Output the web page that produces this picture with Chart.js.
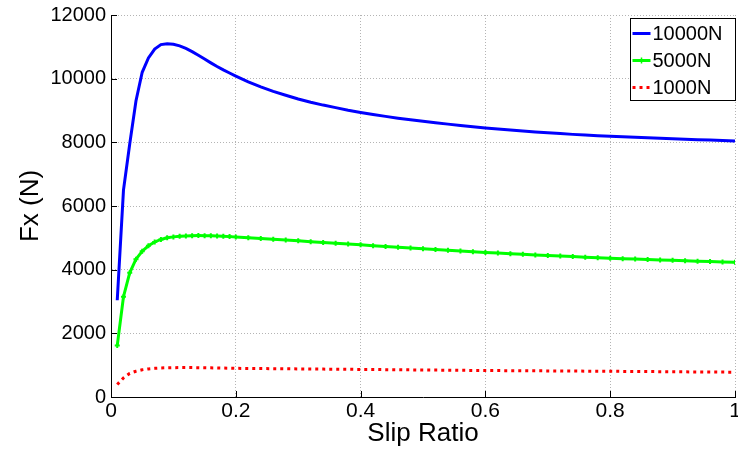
<!DOCTYPE html>
<html>
<head>
<meta charset="utf-8">
<title>Fx vs Slip Ratio</title>
<script src="https://cdn.jsdelivr.net/npm/chart.js@4.4.1/dist/chart.umd.min.js"></script>
<style>
  html, body { margin: 0; padding: 0; background: #fff; }
  #wrap { width: 738px; height: 450px; }
</style>
</head>
<body>
<div id="wrap"><canvas id="fxChart" width="738" height="450"></canvas></div>
<script>
// slip ratio samples (x)
const slip = [
  0.01, 0.02, 0.03, 0.04, 0.05, 0.06, 0.07, 0.08, 0.09, 0.10,
  0.11, 0.12, 0.13, 0.14, 0.15, 0.16, 0.17, 0.18, 0.19, 0.20,
  0.22, 0.24, 0.26, 0.28, 0.30, 0.32, 0.34, 0.36, 0.38, 0.40,
  0.42, 0.44, 0.46, 0.48, 0.50, 0.52, 0.54, 0.56, 0.58, 0.60,
  0.62, 0.64, 0.66, 0.68, 0.70, 0.72, 0.74, 0.76, 0.78, 0.80,
  0.82, 0.84, 0.86, 0.88, 0.90, 0.92, 0.94, 0.96, 0.98, 1.00
];

// Fx (N) for each normal load
const fx10000 = [
  3040, 6500, 7950, 9300, 10200, 10650, 10930, 11070, 11100, 11080,
  11030, 10950, 10850, 10735, 10615, 10497, 10384, 10277, 10177, 10082,
  9902, 9742, 9602, 9478, 9360, 9260, 9170, 9090, 9010, 8940,
  8875, 8815, 8760, 8710, 8662, 8617, 8572, 8530, 8490, 8452,
  8420, 8387, 8357, 8328, 8300, 8275, 8250, 8230, 8210, 8190,
  8175, 8160, 8145, 8125, 8110, 8095, 8080, 8070, 8055, 8045
];
const fx5000 = [
  1614, 3150, 3900, 4330, 4580, 4750, 4870, 4950, 5000, 5030,
  5050, 5060, 5068, 5070, 5068, 5062, 5055, 5047, 5038, 5028,
  5005, 4980, 4955, 4930, 4905, 4880, 4855, 4830, 4805, 4780,
  4755, 4730, 4705, 4680, 4658, 4635, 4610, 4588, 4563, 4540,
  4520, 4500, 4482, 4463, 4445, 4428, 4410, 4393, 4376, 4360,
  4346, 4332, 4318, 4305, 4292, 4279, 4266, 4254, 4242, 4230
];
const fx1000 = [
  390, 600, 740, 810, 855, 883, 900, 912, 918, 922,
  924, 924, 923, 921, 918, 915, 912, 908, 904, 900,
  897, 893, 890, 887, 883, 880, 876, 873, 870, 866,
  863, 859, 856, 852, 849, 846, 842, 839, 835, 832,
  830, 827, 825, 822, 820, 817, 815, 812, 810, 808,
  805, 802, 799, 796, 793, 790, 787, 785, 782, 780
];

const seriesLabels = ["10000N", "5000N", "1000N"];
const xTicks = [0, 0.2, 0.4, 0.6, 0.8, 1];
const yTicks = [0, 2000, 4000, 6000, 8000, 10000, 12000];

const toPoints = vals => slip.map((s, i) => ({ x: s, y: vals[i] }));

const FONT = "'Liberation Sans', Arial, Helvetica, sans-serif";

// inward tick marks on the left and bottom axes (matlab style)
const innerTicks = {
  id: "innerTicks",
  beforeDatasetsDraw(chart) {
    const { ctx, chartArea, scales } = chart;
    ctx.save();
    ctx.strokeStyle = "#000";
    ctx.lineWidth = 1;
    ctx.beginPath();
    scales.y.ticks.forEach(t => {
      const py = Math.round(scales.y.getPixelForValue(t.value)) + 0.5;
      ctx.moveTo(chartArea.left, py);
      ctx.lineTo(chartArea.left + 6, py);
    });
    scales.x.ticks.forEach(t => {
      const px = Math.round(scales.x.getPixelForValue(t.value)) + 0.5;
      ctx.moveTo(px, chartArea.bottom);
      ctx.lineTo(px, chartArea.bottom - 6);
    });
    ctx.stroke();
    ctx.restore();
  }
};

// boxed legend in the upper right corner of the axes
const boxLegend = {
  id: "boxLegend",
  afterDraw(chart) {
    const { ctx, chartArea } = chart;
    const w = 105, h = 82;
    const x0 = chartArea.right - w + 0.5;
    const y0 = chartArea.top + 3.5;
    ctx.save();
    ctx.fillStyle = "#fff";
    ctx.fillRect(x0, y0, w, h);
    ctx.strokeStyle = "#000";
    ctx.lineWidth = 1;
    ctx.strokeRect(x0, y0, w, h);

    ctx.font = "20px " + FONT;
    ctx.textBaseline = "middle";
    ctx.textAlign = "left";
    chart.data.datasets.forEach((ds, i) => {
      const cy = y0 + 15 + i * 27;
      ctx.strokeStyle = ds.borderColor;
      ctx.lineWidth = 3;
      ctx.setLineDash(ds.borderDash || []);
      ctx.beginPath();
      ctx.moveTo(x0 + 2, cy);
      ctx.lineTo(x0 + 20, cy);
      ctx.stroke();
      ctx.setLineDash([]);
      if (ds.pointStyle === "cross") {
        ctx.lineWidth = 1.5;
        ctx.beginPath();
        ctx.moveTo(x0 + 11, cy - 3);
        ctx.lineTo(x0 + 11, cy + 3);
        ctx.stroke();
      }
      ctx.fillStyle = "#000";
      ctx.fillText(ds.label, x0 + 22, cy + 1);
    });
    ctx.restore();
  }
};

new Chart(document.getElementById("fxChart"), {
  type: "line",
  data: {
    datasets: [
      {
        label: seriesLabels[0],
        data: toPoints(fx10000),
        borderColor: "#0000ff",
        borderWidth: 3,
        pointRadius: 0,
        tension: 0
      },
      {
        label: seriesLabels[1],
        data: toPoints(fx5000),
        borderColor: "#00ff00",
        backgroundColor: "#00ff00",
        borderWidth: 3,
        pointStyle: "cross",
        pointRadius: 2.5,
        pointBorderColor: "#00ff00",
        pointBorderWidth: 2,
        tension: 0
      },
      {
        label: seriesLabels[2],
        data: toPoints(fx1000),
        borderColor: "#ff0000",
        borderWidth: 3,
        borderDash: [3, 4],
        pointRadius: 0,
        tension: 0
      }
    ]
  },
  options: {
    responsive: false,
    animation: false,
    events: [],
    layout: { autoPadding: false, padding: { top: 15, right: 3, left: 0, bottom: 0 } },
    plugins: {
      legend: { display: false },
      tooltip: { enabled: false }
    },
    scales: {
      x: {
        type: "linear",
        min: 0,
        max: 1,
        afterBuildTicks: scale => { scale.ticks = xTicks.map(v => ({ value: v })); },
        afterFit: scale => {
          scale.height = 53;
          scale.paddingLeft = 0;
          scale.paddingRight = 0;
        },
        ticks: {
          color: "#000",
          font: { family: FONT, size: 21 },
          padding: 2,
          maxRotation: 0,
          callback: v => String(v)
        },
        grid: { color: "#b4b4b4", lineWidth: 1, drawTicks: false },
        border: { display: true, color: "#000", width: 1, dash: [1, 2] },
        title: {
          display: true,
          text: "Slip Ratio",
          color: "#000",
          font: { family: FONT, size: 26 },
          padding: { top: 0, bottom: 1 }
        }
      },
      y: {
        type: "linear",
        min: 0,
        max: 12000,
        afterBuildTicks: scale => { scale.ticks = yTicks.map(v => ({ value: v })); },
        afterFit: scale => {
          scale.width = 111;
          scale.paddingTop = 0;
          scale.paddingBottom = 0;
        },
        ticks: {
          color: "#000",
          font: { family: FONT, size: 20 },
          padding: 5,
          callback: v => String(v)
        },
        grid: { color: "#b4b4b4", lineWidth: 1, drawTicks: false },
        border: { display: true, color: "#000", width: 1, dash: [1, 2] },
        title: {
          display: true,
          text: "Fx (N)",
          color: "#000",
          font: { family: FONT, size: 26 },
          padding: { top: 15, bottom: 0 }
        }
      }
    }
  },
  plugins: [innerTicks, boxLegend]
});
</script>
</body>
</html>
